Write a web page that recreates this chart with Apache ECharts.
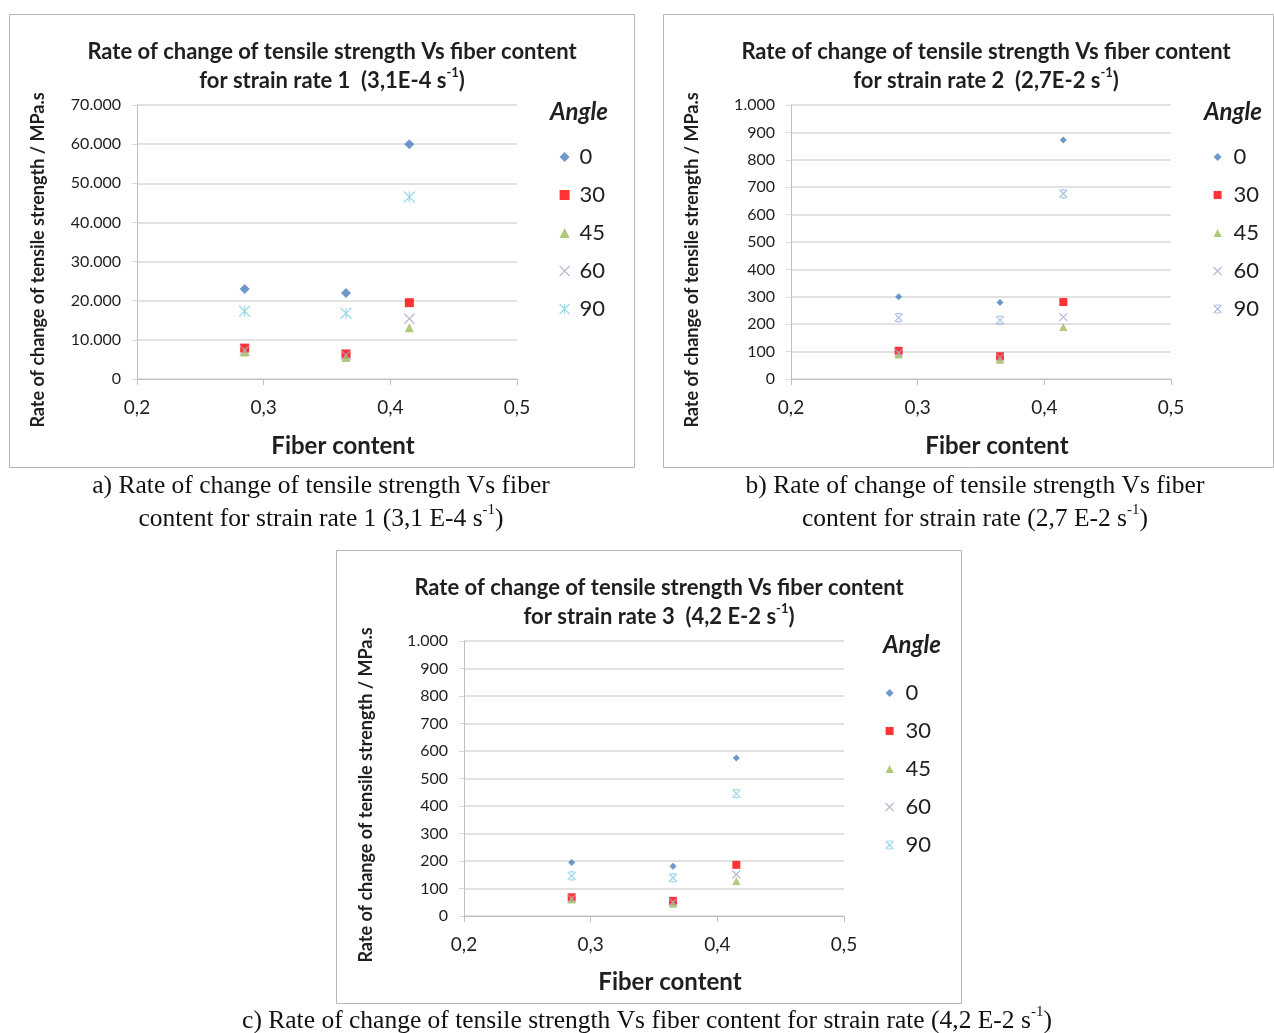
<!DOCTYPE html>
<html>
<head>
<meta charset="utf-8">
<script src="https://cdn.jsdelivr.net/npm/echarts@6/dist/echarts.min.js"></script>
<style>
html,body{margin:0;padding:0;background:#fff;}
#main{width:1274px;height:1033px;}
</style>
</head>
<body>
<div id="main"></div>
<script>
// ---------- DATA ----------
const angles = ['0', '30', '45', '60', '90'];
const fiberContent = [0.285, 0.365, 0.415];
const xTicks = [0.2, 0.3, 0.4, 0.5];

// Chart a: strain rate 1 (3,1E-4 s-1)
const rate1_0  = [23000, 22000, 60000];
const rate1_30 = [7900, 6400, 19500];
const rate1_45 = [6900, 5500, 13100];
const rate1_60 = [7300, 6100, 15400];
const rate1_90 = [17300, 16800, 46500];

// Chart b: strain rate 2 (2,7E-2 s-1)
const rate2_0  = [300, 279, 872];
const rate2_30 = [103, 83, 281];
const rate2_45 = [89, 70, 190];
const rate2_60 = [95, 78, 226];
const rate2_90 = [224, 215, 676];

// Chart c: strain rate 3 (4,2E-2 s-1)
const rate3_0  = [195, 181, 575];
const rate3_30 = [68, 55, 186];
const rate3_45 = [60, 45, 127];
const rate3_60 = [63, 50, 151];
const rate3_90 = [146, 139, 445];

const yMaxA = 70000, yStepA = 10000;
const yMaxB = 1000, yStepB = 100;
const yMaxC = 1000, yStepC = 100;

// ---------- STYLE ----------
const FONT = 'Lato, "Open Sans", sans-serif';
const SERIF = '"Liberation Serif", "DejaVu Serif", serif';
const TXT = '#1f1f1f';
const GRID = '#d9d9d9';
const XPATH = 'path://M0,0L10,10M10,0L0,10';
const STAR = 'path://M0,0L10,10M10,0L0,10M5,0L5,10';
const STARB = 'path://M0,0L10,10M10,0L0,10M2,0L8,0M2,10L8,10';

function fmtY(v){ return String(v).replace(/\B(?=(\d{3})+(?!\d))/g, '.'); }
function fmtX(v){ return v.toFixed(1).replace('.', ','); }
function pts(ys){ return ys.map((y,i)=>[fiberContent[i], y]); }

const panels = [
  { box:[9,14,625,453], grid:{left:137, top:105, width:380, height:274},
    yMax:yMaxA, yStep:yStepA,
    vals:[rate1_0, rate1_30, rate1_45, rate1_60, rate1_90],
    title:'Rate of change of tensile strength Vs fiber content\nfor strain rate 1  (3,1E-4 s{sup|-1})',
    tx:332, ty:37, legLeft:559, legTop:145, angX:579, angY:112,
    ynX:38, ynY:260, xnX:343, xnY:446,
    sizes:[10,9,9,10,11], c90:'#86cfe3', s90:STAR, big:true },
  { box:[663,14,610,453], grid:{left:791, top:105, width:380, height:274},
    yMax:yMaxB, yStep:yStepB,
    vals:[rate2_0, rate2_30, rate2_45, rate2_60, rate2_90],
    title:'Rate of change of tensile strength Vs fiber content\nfor strain rate 2  (2,7E-2 s{sup|-1})',
    tx:986, ty:37, legLeft:1213, legTop:145, angX:1233, angY:112,
    ynX:692, ynY:260, xnX:997, xnY:446,
    sizes:[7,8,8,8,8], c90:'#93b1d9', s90:STARB },
  { box:[336,550,625,453], grid:{left:464, top:641, width:380, height:275},
    yMax:yMaxC, yStep:yStepC,
    vals:[rate3_0, rate3_30, rate3_45, rate3_60, rate3_90],
    title:'Rate of change of tensile strength Vs fiber content\nfor strain rate 3  (4,2 E-2 s{sup|-1})',
    tx:659, ty:573, legLeft:885, legTop:681, angX:912, angY:645,
    ynX:366, ynY:795, xnX:670, xnY:982,
    sizes:[7,8,8,8,8], c90:'#7fcde3', s90:STARB }
];

const baseColors = ['#4a7ebb', '#ff0000', '#9bbb59', '#b3a2c7'];
const baseSymbols = ['diamond', 'rect', 'triangle', XPATH];

function markerStyle(p, k){
  const c = k === 4 ? p.c90 : baseColors[k];
  if (k >= 3) return {color:'transparent', borderColor:c, borderWidth:1.2};
  return {color:c, borderWidth:0};
}
function markerSymbol(p, k){ return k === 4 ? p.s90 : baseSymbols[k]; }

const grids = [], xAxes = [], yAxes = [], series = [], legends = [], graphics = [];

panels.forEach((p, i) => {
  graphics.push({type:'rect', shape:{x:p.box[0]+0.5, y:p.box[1]+0.5, width:p.box[2], height:p.box[3]},
    style:{fill:'#fff', stroke:'#b5b5b5', lineWidth:1}, z:-10});
  grids.push(Object.assign({containLabel:false}, p.grid));
  xAxes.push({type:'value', gridIndex:i, min:xTicks[0], max:xTicks[xTicks.length-1], interval:0.1,
    axisLine:{show:true, lineStyle:{color:'#bfbfbf', width:1}},
    axisTick:{show:true, length:6, lineStyle:{color:'#bfbfbf'}},
    splitLine:{show:false},
    axisLabel:{formatter:fmtX, fontFamily:FONT, fontSize:19, color:TXT, margin:19}});
  yAxes.push({type:'value', gridIndex:i, min:0, max:p.yMax, interval:p.yStep,
    axisLine:{show:true, lineStyle:{color:'#bfbfbf', width:1}},
    axisTick:{show:true, length:5, lineStyle:{color:GRID}},
    splitLine:{show:true, lineStyle:{color:GRID, width:1.5}},
    axisLabel:{formatter:fmtY, fontFamily:FONT, fontSize:16, color:TXT, margin:16}});
  angles.forEach((a, k) => {
    const sz = p.sizes[k];
    series.push({type:'scatter', name:a, xAxisIndex:i, yAxisIndex:i,
      symbol:markerSymbol(p,k), symbolSize: sz,
      itemStyle:markerStyle(p,k), data:pts(p.vals[k]), z:2+k,
      emphasis:{disabled:true}});
  });
  legends.push({orient:'vertical', left:p.legLeft, top:p.legTop, itemGap:14, padding:0,
    itemWidth:p.big?10:8, itemHeight:p.big?10:8, selectedMode:false,
    textStyle:{fontFamily:FONT, fontSize:22, color:TXT, lineHeight:24, padding:[0,0,0,p.big?5:7]},
    data:angles.map((a,k)=>({name:a, icon:markerSymbol(p,k), itemStyle:markerStyle(p,k)}))});
  // title
  graphics.push({type:'text', x:p.tx, y:p.ty, style:{text:p.title, fontFamily:FONT, fontWeight:'bold',
    fontSize:22, lineHeight:29, fill:TXT, align:'center', verticalAlign:'top',
    rich:{sup:{fontSize:13, fontWeight:'bold', fontFamily:FONT, verticalAlign:'top', lineHeight:20, fill:TXT}}}});
  // legend title
  graphics.push({type:'text', x:p.angX, y:p.angY, style:{text:'Angle', fontFamily:FONT, fontWeight:'bold',
    fontStyle:'italic', fontSize:24, fill:TXT, align:'center', verticalAlign:'middle'}});
  // axis names
  graphics.push({type:'text', x:p.ynX, y:p.ynY, rotation:Math.PI/2, style:{text:'Rate of change of tensile strength / MPa.s',
    fontFamily:FONT, fontWeight:'bold', fontSize:18, fill:TXT, align:'center', verticalAlign:'middle'}});
  graphics.push({type:'text', x:p.xnX, y:p.xnY, style:{text:'Fiber content',
    fontFamily:FONT, fontWeight:'bold', fontSize:24, fill:TXT, align:'center', verticalAlign:'middle'}});
});

// captions
const capRich = {sup:{fontSize:15, fontFamily:SERIF, verticalAlign:'top', lineHeight:24, fill:'#111'}};
function caption(x, y, txt){
  graphics.push({type:'text', x:x, y:y, style:{text:txt, fontFamily:SERIF, fontSize:25.5, lineHeight:33,
    fill:'#111', align:'center', verticalAlign:'middle', rich:capRich}});
}
caption(321, 503, 'a) Rate of change of tensile strength Vs fiber\ncontent for strain rate 1 (3,1 E-4 s{sup|-1})');
caption(975, 503, 'b) Rate of change of tensile strength Vs fiber\ncontent for strain rate (2,7 E-2 s{sup|-1})');
caption(647, 1021, 'c) Rate of change of tensile strength Vs fiber content for strain rate (4,2 E-2 s{sup|-1})');

const chart = echarts.init(document.getElementById('main'), null, {renderer:'canvas'});
chart.setOption({
  backgroundColor:'#ffffff',
  animation:false,
  grid:grids, xAxis:xAxes, yAxis:yAxes, series:series, legend:legends,
  graphic:{elements:graphics}
});
</script>
</body>
</html>
